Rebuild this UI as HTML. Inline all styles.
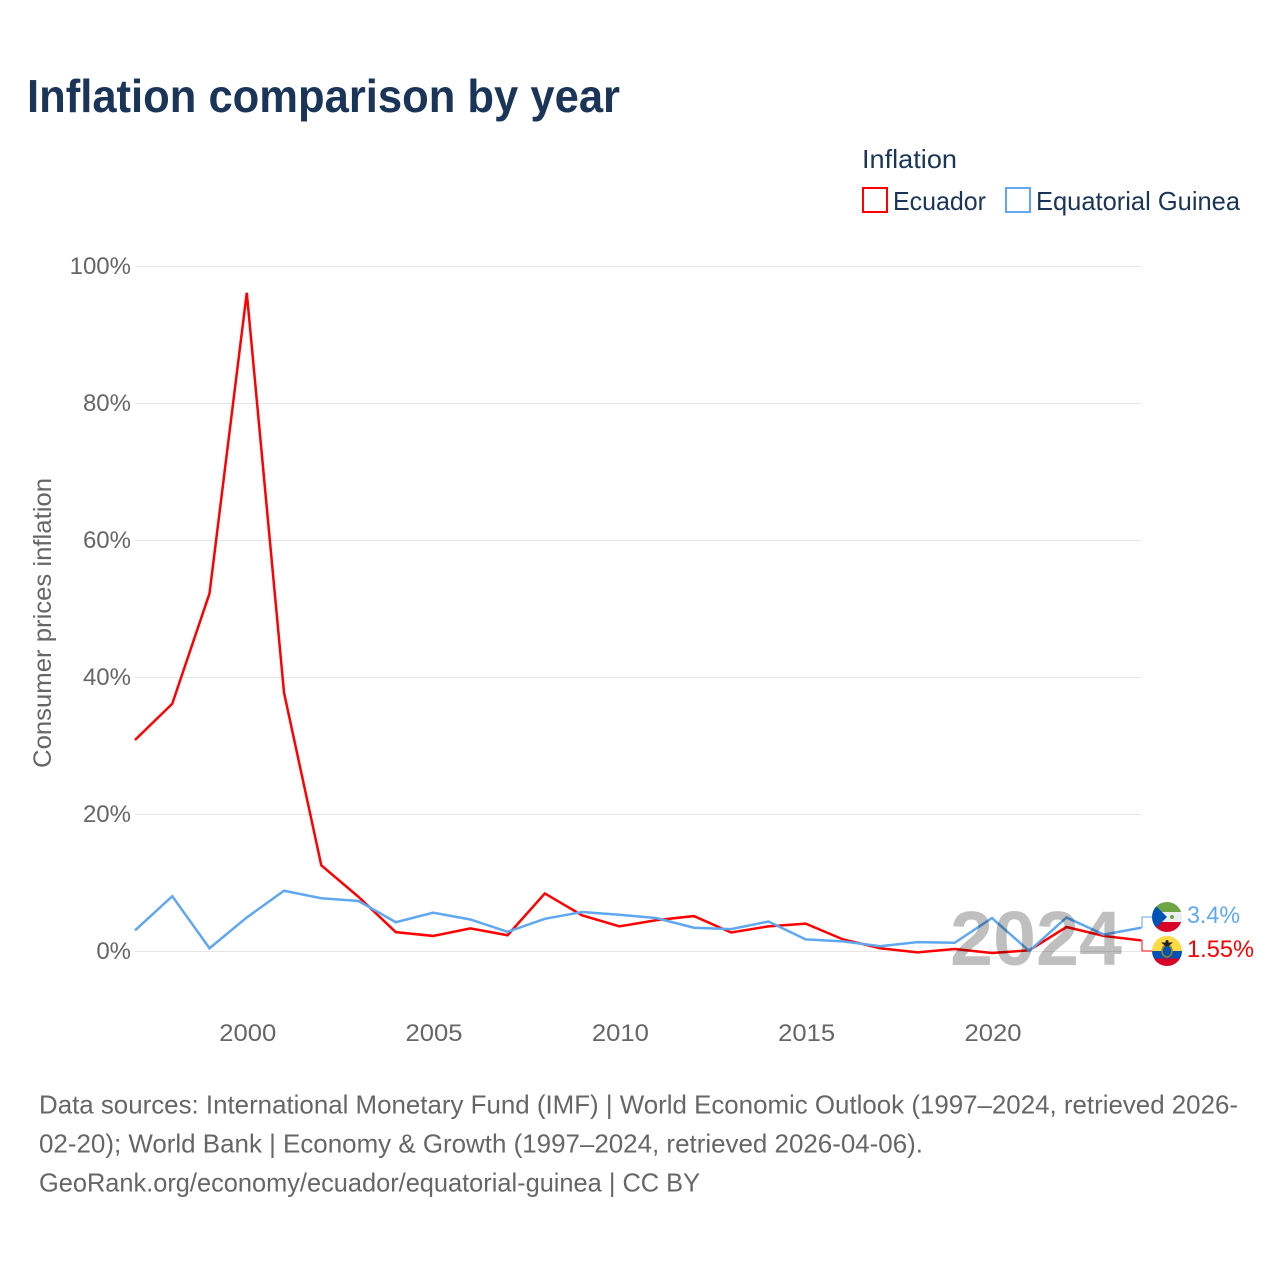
<!DOCTYPE html>
<html lang="en">
<head>
<meta charset="utf-8">
<title>Inflation comparison by year</title>
<style>
html,body{margin:0;padding:0;background:#fff}
svg{display:block;font-family:"Liberation Sans",sans-serif}
</style>
</head>
<body>
<svg id="chart" width="1280" height="1280" viewBox="0 0 1280 1280" xmlns="http://www.w3.org/2000/svg">
  <defs>
    <clipPath id="clip-gq"><circle cx="1167" cy="917" r="15"/></clipPath>
    <clipPath id="clip-ec"><circle cx="1167" cy="951" r="15"/></clipPath>
  </defs>
  <rect width="1280" height="1280" fill="#fff"/>
  <text x="27" y="112" font-size="46" font-weight="700" fill="#1a3557" textLength="593" lengthAdjust="spacingAndGlyphs">Inflation comparison by year</text>

  <g fill="#1a3557" font-size="26">
    <text x="862" y="168" textLength="95" lengthAdjust="spacingAndGlyphs">Inflation</text>
    <rect x="863" y="188" width="24" height="24" fill="none" stroke="#ff0000" stroke-width="2"/>
    <text x="893" y="210" textLength="93" lengthAdjust="spacingAndGlyphs">Ecuador</text>
    <rect x="1006" y="188" width="24" height="24" fill="none" stroke="#5fa8f0" stroke-width="2"/>
    <text x="1036" y="210" textLength="204" lengthAdjust="spacingAndGlyphs">Equatorial Guinea</text>
  </g>

  <g id="grid"></g>
  <g id="y-ticks"></g>
  <g id="x-ticks"></g>
  <text transform="translate(51,623) rotate(-90)" text-anchor="middle" font-size="25" fill="#666" textLength="290" lengthAdjust="spacingAndGlyphs">Consumer prices inflation</text>

  <g id="series"></g>

  <text x="950" y="965" font-size="77" font-weight="700" fill="#000" fill-opacity="0.25" textLength="172" lengthAdjust="spacingAndGlyphs">2024</text>

  <g id="end-labels"></g>

  <g clip-path="url(#clip-gq)">
    <rect x="1152" y="902" width="30" height="30" fill="#eeeeee"/>
    <rect x="1152" y="902" width="30" height="10" fill="#6da544"/>
    <rect x="1152" y="922" width="30" height="10" fill="#d80027"/>
    <path d="M1152 902L1167 917L1152 932Z" fill="#0052b4"/>
    <circle cx="1172" cy="917" r="2" fill="#6da544"/>
  </g>
  <g clip-path="url(#clip-ec)">
    <rect x="1152" y="936" width="30" height="15" fill="#ffda44"/>
    <rect x="1152" y="951" width="30" height="7.5" fill="#0052b4"/>
    <rect x="1152" y="958.5" width="30" height="7.5" fill="#d80027"/>
    <ellipse cx="1167" cy="951" rx="5" ry="6" fill="#0052b4" stroke="#a2841c" stroke-width="1.5"/>
    <path d="M1161 942.5L1173 942.5L1168.5 946L1165.5 946Z" fill="#222"/>
    <circle cx="1167" cy="941.5" r="1.5" fill="#222"/>
  </g>

  <g font-size="26" fill="#666">
    <text x="39" y="1113.5" textLength="1199" lengthAdjust="spacingAndGlyphs">Data sources: International Monetary Fund (IMF) | World Economic Outlook (1997–2024, retrieved 2026-</text>
    <text x="39" y="1152.5" textLength="884" lengthAdjust="spacingAndGlyphs">02-20); World Bank | Economy &amp; Growth (1997–2024, retrieved 2026-04-06).</text>
    <text x="39" y="1191.5" textLength="661" lengthAdjust="spacingAndGlyphs">GeoRank.org/economy/ecuador/equatorial-guinea | CC BY</text>
  </g>
</svg>
<script>
const years = [1997,1998,1999,2000,2001,2002,2003,2004,2005,2006,2007,2008,2009,2010,2011,2012,2013,2014,2015,2016,2017,2018,2019,2020,2021,2022,2023,2024];
const ecuador = [30.8,36.1,52.2,96.1,37.7,12.5,7.9,2.75,2.2,3.3,2.3,8.4,5.2,3.6,4.5,5.1,2.7,3.6,4.0,1.7,0.4,-0.2,0.3,-0.3,0.1,3.5,2.2,1.55];
const equatorialGuinea = [3.0,8.0,0.4,4.9,8.8,7.7,7.3,4.2,5.6,4.6,2.8,4.7,5.7,5.3,4.8,3.4,3.2,4.3,1.7,1.4,0.7,1.3,1.2,4.8,0.0,4.9,2.4,3.4];
const yTickValues = [0,20,40,60,80,100];
const xTickValues = [2000,2005,2010,2015,2020];
const ecuadorEndLabel = "1.55%";
const guineaEndLabel = "3.4%";

const NS = "http://www.w3.org/2000/svg";
const xScale = function (year) { return 135 + (year - 1997) * (1141 - 135) / 27; };
const yScale = function (value) { return 951 - value * 6.85; };

function make(tag, parent, attrs, text) {
  const node = document.createElementNS(NS, tag);
  for (const key in attrs) node.setAttribute(key, attrs[key]);
  if (text !== undefined) node.textContent = text;
  parent.appendChild(node);
  return node;
}

const gridGroup = document.getElementById("grid");
const yTickGroup = document.getElementById("y-ticks");
yTickValues.forEach(function (value) {
  const gridY = Math.round(yScale(value)) + 0.5;
  const line = make("line", gridGroup, { x1: 135, x2: 1141, y1: gridY, y2: gridY, stroke: "#e6e6e6", "stroke-width": 1 });
  
  
  const label = make("text", yTickGroup, { x: 131, y: yScale(value) + 8, "text-anchor": "end", "font-size": 24, fill: "#666" }, value + "%");
  
  
});

const xTickGroup = document.getElementById("x-ticks");
xTickValues.forEach(function (year) {
  const label = make("text", xTickGroup, { x: xScale(year) + 1, y: 1041, "text-anchor": "middle", "font-size": 24, fill: "#666", textLength: 57, lengthAdjust: "spacingAndGlyphs" }, String(year));
  
  
});

function linePoints(values) {
  return values.map(function (value, i) { return xScale(years[i]).toFixed(2) + "," + yScale(value).toFixed(2); }).join(" ");
}

const seriesGroup = document.getElementById("series");
const ecuadorLine = make("polyline", seriesGroup, { points: linePoints(ecuador), fill: "none", stroke: "#ff0000", "stroke-width": 2.5, "stroke-linejoin": "miter" });


const guineaLine = make("polyline", seriesGroup, { points: linePoints(equatorialGuinea), fill: "none", stroke: "#5fa8f0", "stroke-width": 2.5, "stroke-linejoin": "miter" });



const endGroup = document.getElementById("end-labels");
const lastX = xScale(years[years.length - 1]);
const guineaConnector = make("polyline", endGroup, { points: lastX + "," + yScale(equatorialGuinea[equatorialGuinea.length - 1]) + " " + (lastX + 1) + "," + yScale(equatorialGuinea[equatorialGuinea.length - 1]) + " " + (lastX + 1) + ",917 1152,917", fill: "none", stroke: "#5fa8f0", "stroke-width": 1 });


const ecuadorConnector = make("polyline", endGroup, { points: lastX + "," + yScale(ecuador[ecuador.length - 1]) + " " + (lastX + 1) + "," + yScale(ecuador[ecuador.length - 1]) + " " + (lastX + 1) + ",951 1152,951", fill: "none", stroke: "#ff0000", "stroke-width": 1 });


const guineaText = make("text", endGroup, { x: 1187, y: 923, "font-size": 24, fill: "#5fa8f0", textLength: 53, lengthAdjust: "spacingAndGlyphs" }, guineaEndLabel);


const ecuadorText = make("text", endGroup, { x: 1187, y: 957, "font-size": 24, fill: "#ff0000", textLength: 67, lengthAdjust: "spacingAndGlyphs" }, ecuadorEndLabel);


</script>
</body>
</html>
